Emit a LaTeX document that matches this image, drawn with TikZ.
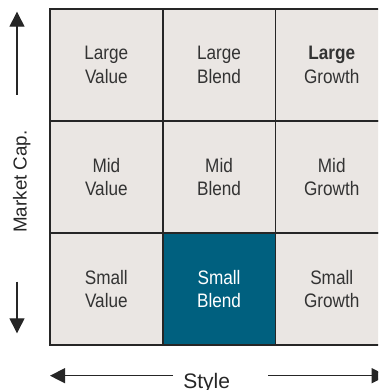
\documentclass[tikz,border=0pt]{standalone}
\usepackage{fontspec}
\setmainfont{Liberation Sans}
\newfontfamily\cellfont[FakeStretch=0.88]{Liberation Sans}
\usetikzlibrary{arrows.meta}
\definecolor{cellgrey}{HTML}{EAE6E3}
\definecolor{smallblend}{HTML}{00607F}
\definecolor{celltext}{HTML}{333333}

\begin{document}
\begin{tikzpicture}[x=1pt,y=-1pt,
  cell/.style={draw=black!85,line width=1.8pt,fill=cellgrey,minimum width=112.7pt,minimum height=112pt,inner sep=0pt,align=center,text=celltext,font=\cellfont\fontsize{19.5}{23.3}\selectfont},
  axis/.style={line width=1.3pt,draw=black!85,-{Triangle[length=15pt,width=15pt]}},
  axislabel/.style={text=black!85,inner sep=0pt,anchor=base}]
\useasboundingbox (0,0) rectangle (378,390);
\clip (0,0) rectangle (378,390);
\node[cell] (lv) at (106.35,65) {Large\\Value};
\node[cell] (lb) at (219.05,65) {Large\\Blend};
\node[cell] (lg) at (331.75,65) {\textbf{Large}\\Growth};
\node[cell] (mv) at (106.35,177) {Mid\\Value};
\node[cell] (mb) at (219.05,177) {Mid\\Blend};
\node[cell] (mg) at (331.75,177) {Mid\\Growth};
\node[cell] (sv) at (106.35,289.3) {Small\\Value};
\node[cell,fill=smallblend,text=white] (sb) at (219.05,289.3) {Small\\Blend};
\node[cell] (sg) at (331.75,289.3) {Small\\Growth};
\node[axislabel,rotate=90,font=\fontsize{18.8}{22}\selectfont] (cap) at (26.7,181.5) {Market Cap.};
\node[axislabel,font=\fontsize{21}{25}\selectfont] (style) at (206.7,388.3) {Style};
\coordinate (captop) at (17,95);
\coordinate (uptip) at (17,11.7);
\coordinate (capbot) at (17,281.7);
\coordinate (downtip) at (17,333.3);
\coordinate (styleleft) at (173,375.7);
\coordinate (lefttip) at (50,375.7);
\coordinate (styleright) at (268,375.7);
\coordinate (righttip) at (386.7,375.7);
\draw[axis] (captop) -- (uptip);
\draw[axis] (capbot) -- (downtip);
\draw[axis] (styleleft) -- (lefttip);
\draw[axis] (styleright) -- (righttip);
\end{tikzpicture}
\end{document}
